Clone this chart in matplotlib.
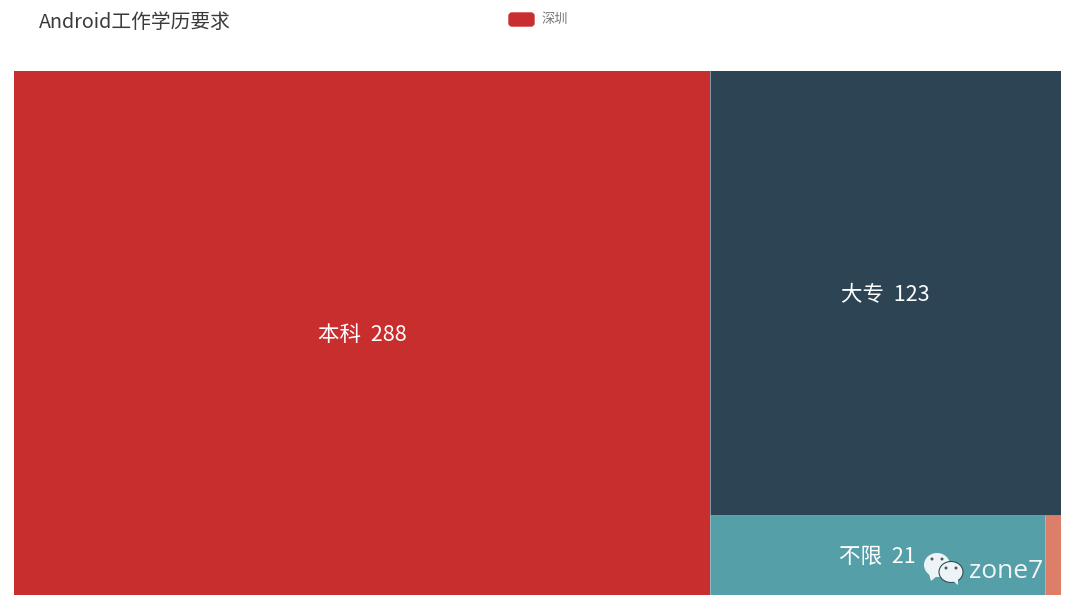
import matplotlib
matplotlib.use("Agg")
from matplotlib import pyplot as plt
from matplotlib.patches import Rectangle, Ellipse, Polygon, FancyBboxPatch

plt.rcParams["font.family"] = ["Noto Sans CJK SC", "DejaVu Sans"]

# =============================================

names = ["本科", "大专", "不限", ""]
values = [288, 123, 21, 1]
colors = ["#c92e2e", "#2d4455", "#55a0a8", "#dd7f68"]

W, H = 1080, 616
fig = plt.figure(figsize=(W / 100, H / 100), dpi=100, facecolor="white")

# treemap area, the unit square is split by the values
ax = fig.add_axes([14 / W, 1 - 595 / H, (1061 - 14) / W, (595 - 71) / H])
ax.set_xlim(0, 1)
ax.set_ylim(0, 1)
ax.axis("off")

# =============================================

def getRects(vals):
    total = sum(vals)
    rest = sum(vals[1:])
    lower = sum(vals[2:])
    x1 = vals[0] / total
    y1 = lower / rest
    x2 = x1 + (1 - x1) * vals[2] / lower
    return [
        (0, 0, x1, 1),
        (x1, y1, 1 - x1, 1 - y1),
        (x1, 0, x2 - x1, y1),
        (x2, 0, 1 - x2, y1),
    ]

rects = getRects(values)
for name, value, color, (x, y, w, h) in zip(names, values, colors, rects):
    ax.add_patch(Rectangle((x, y), w, h, facecolor=color, edgecolor="none"))
    if name:
        ax.text(x + w / 2, y + h / 2 - 0.004, f"{name}  {value}", color="white",
                fontsize=15.5, fontweight="medium", ha="center", va="center")

# thin light seams between the cells
for x, y, w, h in rects[1:]:
    ax.plot([x, x], [y, y + h], color="#aebfc6", linewidth=0.5)
ax.plot([rects[2][0], 1], [rects[2][3], rects[2][3]], color="#7a9aa2", linewidth=0.5)

# =============================================

# full figure overlay in pixels for title, legend and watermark
over = fig.add_axes([0, 0, 1, 1])
over.set_xlim(0, W)
over.set_ylim(H, 0)
over.axis("off")
over.patch.set_alpha(0)

over.text(39, 22, "Android工作学历要求", fontsize=14.2, fontweight="medium", color="#3a3a3a",
          ha="left", va="center")

over.add_patch(FancyBboxPatch((509, 13), 25, 13, boxstyle="round,pad=0,rounding_size=3",
                              mutation_aspect=1, facecolor=colors[0], edgecolor=colors[0], linewidth=1))
over.text(541, 19.5, "深圳", fontsize=9.5, color="#777777", ha="left", va="center")

# watermark
over.add_patch(Ellipse((937, 565), 26, 24, facecolor="#eef3f8", edgecolor="none"))
over.add_patch(Polygon([[929, 574], [931, 581], [937, 576]], facecolor="#eef3f8", edgecolor="none"))
over.add_patch(Ellipse((951, 572), 24, 21, facecolor="#eef3f8", edgecolor="#2f4f55", linewidth=0.8))
over.add_patch(Polygon([[953, 581], [958, 585], [958, 579]], facecolor="#eef3f8", edgecolor="none"))
for ex, ey in [(932, 559), (942, 559), (946, 568), (956, 568)]:
    over.add_patch(Ellipse((ex, ey), 3, 3, facecolor="#4a5a60", edgecolor="none"))
over.text(969, 571, "zone7", fontsize=19, color="#f2f5f7", ha="left", va="center",
          family=["Open Sans", "DejaVu Sans"])

fig.savefig("out.png", dpi=100)
